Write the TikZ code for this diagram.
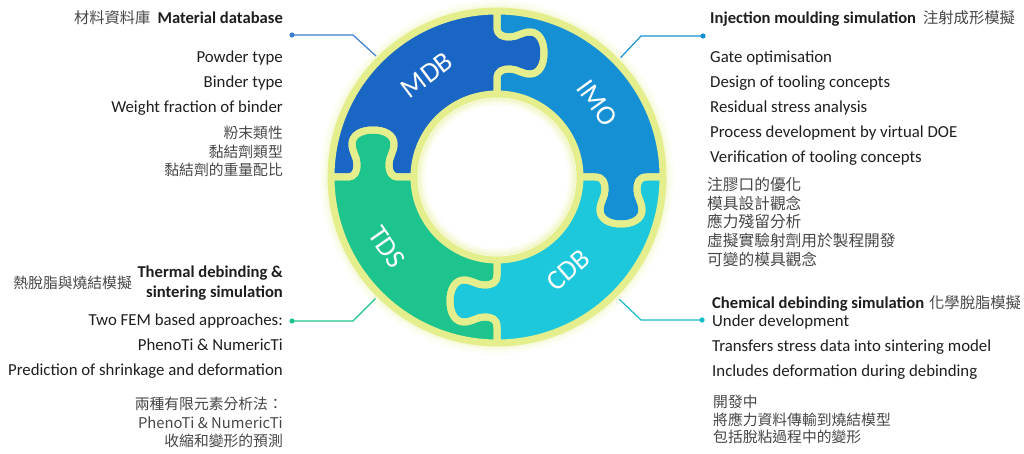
\documentclass[tikz,border=0pt]{standalone}
\usepackage{fontspec}
\setmainfont{Carlito}
\newfontfamily\cjk{Noto Sans CJK TC}
\usetikzlibrary{positioning}
\definecolor{mdbblue}{RGB}{26,102,196}
\definecolor{imoblue}{RGB}{22,144,212}
\definecolor{cdbcyan}{RGB}{30,200,220}
\definecolor{tdsgreen}{RGB}{30,196,142}
\definecolor{seam}{RGB}{228,238,140}
\definecolor{txtdark}{RGB}{30,30,30}
\definecolor{txtgray}{RGB}{70,70,70}
\tikzset{
  piece/.style={line width=7pt, draw=seam, line join=round},
  lbl/.style={text=white, inner sep=0pt, font=\fontsize{28}{28}\selectfont},
  item/.style={font=\fontsize{16.8}{25}\selectfont, text=txtdark, inner sep=0pt},
  zh/.style={font=\cjk\fontsize{14.8}{18.6}\selectfont, text=txtgray, inner sep=0pt},
  ttl/.style={font=\fontsize{16.6}{19.5}\selectfont\bfseries, text=txtdark, inner sep=0pt},
  lead/.style={line width=1.2pt},
}
\newcommand{\zhttl}[1]{{\cjk\mdseries\color{txtgray}\fontsize{15.3}{18}\selectfont #1}}
% one puzzle piece between 0 and 90 degrees, tab at the 0 edge
\newcommand{\piecepath}{(83,0) -- (98,0) .. controls (106,0) and (108,-5) .. (108,-13) .. controls (108,-20) and (103,-25) .. (103,-33) .. controls (103,-42) and (112,-47) .. (124,-47) .. controls (136,-47) and (145,-42) .. (145,-33) .. controls (145,-25) and (140,-20) .. (140,-13) .. controls (140,-5) and (142,0) .. (150,0) -- (166,0) arc[start angle=0, end angle=90, radius=166] -- (0,150) .. controls (0,142) and (5,140) .. (13,140) .. controls (20,140) and (25,145) .. (33,145) .. controls (42,145) and (47,136) .. (47,124) .. controls (47,112) and (42,103) .. (33,103) .. controls (25,103) and (20,108) .. (13,108) .. controls (5,108) and (0,106) .. (0,98) -- (0,83) arc[start angle=90, end angle=0, radius=83] -- cycle}

\begin{document}
\begin{tikzpicture}[x=1pt,y=1pt]
  \useasboundingbox (0,0) rectangle (1024,-454);
  % glow round the ring
  \foreach \g/\o in {2/.3,4/.18,6/.1,8/.05}
    \draw[seam, opacity=\o, line width=2.2pt] (497,-177) circle[radius=168+\g];
  \begin{scope}[shift={(497,-177)}]
    \fill[mdbblue, rotate=90] \piecepath;
    \fill[imoblue] \piecepath;
    \fill[cdbcyan, rotate=270] \piecepath;
    \fill[tdsgreen, rotate=180] \piecepath;
    \foreach \a in {0,90,180,270}
      \draw[piece, rotate=\a] \piecepath;
    % soft rim inside the hole
    \foreach \g/\o in {2/.45,4/.28,6/.15,8/.07}
      \draw[seam, opacity=\o, line width=2.2pt] (0,0) circle[radius=80-\g];
    \node[lbl, rotate=37] (mdb) at (-70,102) {MDB};
    \node[lbl, rotate=-54] (imo) at (100,74) {IMO};
    \node[lbl, rotate=-55] (tds) at (-110,-70) {TDS};
    \node[lbl, rotate=41] (cdb) at (71,-93) {CDB};
    \coordinate (mdbrim) at (135:171);
    \coordinate (imorim) at (44:172);
    \coordinate (tdsrim) at (225:172);
    \coordinate (cdbrim) at (315:173);
  \end{scope}

  % material database
  \node[ttl, anchor=base east] (mdbttl) at (283,-24) {\zhttl{材料資料庫}\hspace{7pt}Material database};
  \node[item, anchor=north east, align=right] (mdbitems) at (283,-51) {Powder type\\Binder type\\Weight fraction of binder};
  \node[zh, anchor=north east, align=right] (mdbzh) at (283,-126) {粉末類性\\黏結劑類型\\黏結劑的重量配比};
  % injection moulding
  \node[ttl, anchor=base west] (imottl) at (710,-24) {Injection moulding simulation\hspace{7pt}\zhttl{注射成形模擬}};
  \node[item, anchor=north west, align=left] (imoitems) at (710,-51) {Gate optimisation\\Design of tooling concepts\\Residual stress analysis\\Process development by virtual DOE\\Verification of tooling concepts};
  \node[zh, font=\cjk\fontsize{15.7}{18.7}\selectfont, anchor=north west, align=left] (imozh) at (707,-177) {注膠口的優化\\模具設計觀念\\應力殘留分析\\虛擬實驗射劑用於製程開發\\可變的模具觀念};
  % thermal debinding
  \node[zh, anchor=east] (tdszhttl) at (132,-283) {熱脫脂與燒結模擬};
  \node[ttl, anchor=north east, align=right] (tdsttl) at (283,-266) {Thermal debinding \&\\sintering simulation};
  \node[item, anchor=north east, align=right] (tdsitems) at (283,-314) {Two FEM based approaches:\\PhenoTi \& NumericTi\\Prediction of shrinkage and deformation};
  \node[zh, anchor=north east, align=right] (tdszh) at (283,-397) {兩種有限元素分析法：\\PhenoTi \& NumericTi\\收縮和變形的預測};
  % chemical debinding
  \node[ttl, anchor=base west] (cdbttl) at (712,-308) {Chemical debinding simulation\hspace{5pt}\zhttl{化學脫脂模擬}};
  \node[item, anchor=north west, align=left] (cdbitems) at (712,-315) {Under development\\Transfers stress data into sintering model\\Includes deformation during debinding};
  \node[zh, font=\cjk\fontsize{14.8}{17.5}\selectfont, anchor=north west, align=left] (cdbzh) at (713,-395) {開發中\\將應力資料傳輸到燒結模型\\包括脫粘過程中的變形};

  % leader lines
  \coordinate (mdbdot) at (292,-35);
  \coordinate (imodot) at (703,-36);
  \coordinate (tdsdot) at (292,-321);
  \coordinate (cdbdot) at (702,-320);
  \draw[lead, mdbblue!85] (mdbdot) -- ++(61,0) -- (mdbrim);
  \draw[lead, imoblue] (imodot) -- ++(-62,0) -- (imorim);
  \draw[lead, tdsgreen] (tdsdot) -- ++(61,0) -- (tdsrim);
  \draw[lead, cdbcyan!80!teal] (cdbdot) -- ++(-61,0) -- (cdbrim);
  \fill[mdbblue!85] (mdbdot) circle[radius=2.6];
  \fill[imoblue] (imodot) circle[radius=2.6];
  \fill[tdsgreen] (tdsdot) circle[radius=2.6];
  \fill[cdbcyan!80!teal] (cdbdot) circle[radius=2.6];
\end{tikzpicture}
\end{document}
